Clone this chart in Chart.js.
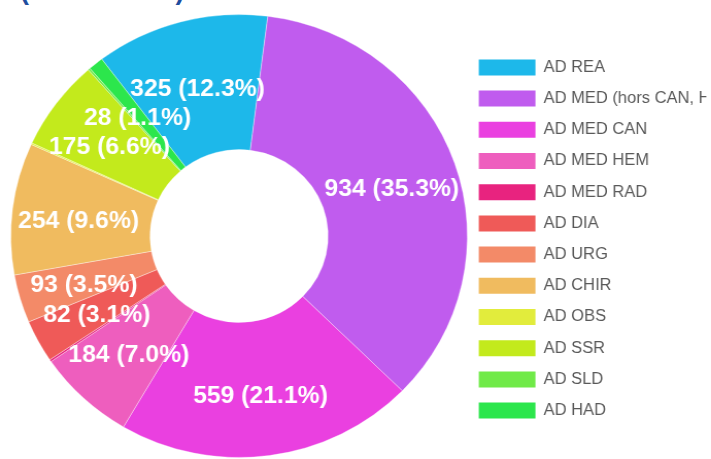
<!DOCTYPE html>
<html>
<head>
<meta charset="utf-8">
<script src="https://cdn.jsdelivr.net/npm/chart.js@4.4.1/dist/chart.umd.min.js"></script>
<style>
  html, body { margin: 0; padding: 0; background: #ffffff; overflow: hidden; }
  body { width: 711px; height: 459px; position: relative; }
  #title { position: absolute; left: 20px; top: -25px; font: bold 27px "Liberation Sans", Arial, sans-serif; line-height: 31px; color: #1f4e9e; white-space: nowrap; }
  #wrap { position: absolute; left: 0; top: 0; width: 690px; height: 459px; transform: scaleX(1.0305); transform-origin: 0 0; }
</style>
</head>
<body>
<div id="title">(Total : 2645)</div>
<div id="wrap"><canvas id="c"></canvas></div>
<script>
const categories = ["AD REA", "AD MED (hors CAN, HEM, RAD)", "AD MED CAN", "AD MED HEM", "AD MED RAD", "AD DIA", "AD URG", "AD CHIR", "AD OBS", "AD SSR", "AD SLD", "AD HAD"];
const values = [325, 934, 559, 184, 4, 82, 93, 254, 3, 175, 4, 28];
const colors = ["#1db8ea", "#c05cee", "#ea40e0", "#ee5ebe", "#e8237f", "#ef5a58", "#f38a68", "#f0bb5f", "#e2ec3c", "#c3ea1c", "#70ea48", "#2ce64c"];

const total = values.reduce((a, b) => a + b, 0);

const labelPlugin = {
  id: 'sliceLabels',
  afterLayout(chart) {
    const lg = chart.legend;
    if (!lg) return;
    const w = lg.width, h = lg.height;
    lg.left = 449.4; lg.right = lg.left + w;
    lg.top += 3; lg.bottom = lg.top + h;
  },
  afterDatasetsDraw(chart) {
    const ctx = chart.ctx;
    const meta = chart.getDatasetMeta(0);
    ctx.save();
    ctx.font = 'bold 24px "Liberation Sans", Arial, sans-serif';
    ctx.fillStyle = '#ffffff';
    ctx.textAlign = 'center';
    ctx.textBaseline = 'middle';
    meta.data.forEach((arc, i) => {
      const v = values[i];
      if (v / total < 0.005) return;
      const p = arc.getProps(['x', 'y', 'startAngle', 'endAngle', 'innerRadius', 'outerRadius']);
      const a = (p.startAngle + p.endAngle) / 2;
      const r = (p.innerRadius + p.outerRadius) / 2 + 3;
      ctx.fillText(v + ' (' + (v / total * 100).toFixed(1) + '%)', p.x + Math.cos(a) * r, p.y + Math.sin(a) * r + 5);
    });
    ctx.restore();
  }
};

new Chart(document.getElementById('c'), {
  type: 'doughnut',
  data: {
    labels: categories,
    datasets: [{
      data: values,
      backgroundColor: colors,
      borderColor: 'rgba(255,255,255,0.35)',
      borderWidth: 1
    }]
  },
  options: {
    responsive: true,
    maintainAspectRatio: false,
    animation: false,
    cutout: '39%',
    rotation: -37,
    layout: { padding: { left: 10, right: 0, top: 14, bottom: 1 } },
    plugins: {
      tooltip: { enabled: false },
      legend: {
        position: 'right',
        maxWidth: 236,
        labels: {
          boxWidth: 55,
          boxHeight: 16,
          padding: 15.2,
          color: '#595959',
          font: { size: 16, family: '"Liberation Sans", Arial, sans-serif' },
          generateLabels(chart) {
            const items = Chart.overrides.doughnut.plugins.legend.labels.generateLabels(chart);
            items.forEach(it => { it.lineWidth = 0; it.strokeStyle = 'rgba(0,0,0,0)'; });
            return items;
          }
        }
      }
    }
  },
  plugins: [labelPlugin]
});
</script>
</body>
</html>
